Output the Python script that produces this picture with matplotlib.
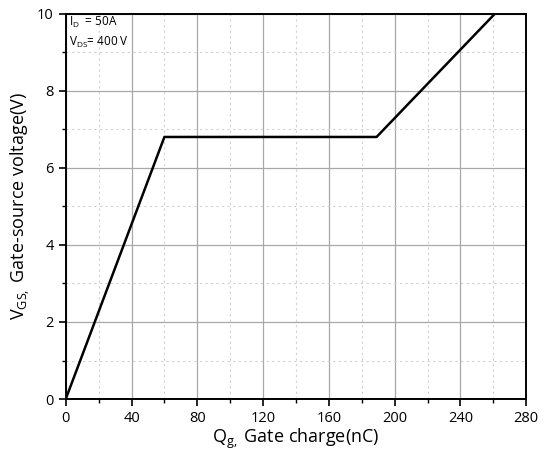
import matplotlib
matplotlib.use("Agg")
import matplotlib.pyplot as plt
from matplotlib.ticker import MultipleLocator

plt.rcParams['font.family'] = ['Open Sans', 'DejaVu Sans']
plt.rcParams['mathtext.fontset'] = 'custom'
plt.rcParams['mathtext.rm'] = 'Open Sans'

# gate charge curve
qg = [0, 60, 189, 261]
vgs = [0, 6.8, 6.8, 10]

fig = plt.figure(figsize=(5.45, 4.54), dpi=100)
ax = fig.add_axes([0.1206, 0.121, 0.845, 0.849])

ax.set_xlim(0, 280)
ax.set_ylim(0, 10)
ax.xaxis.set_major_locator(MultipleLocator(40))
ax.xaxis.set_minor_locator(MultipleLocator(20))
ax.yaxis.set_major_locator(MultipleLocator(2))
ax.yaxis.set_minor_locator(MultipleLocator(1))

ax.grid(which='major', color='#a8a8a8', ls='-', lw=0.9)
ax.grid(which='minor', color='#d0d0d0', ls=(0, (2, 3)), lw=0.8)
ax.set_axisbelow(True)

ax.plot(qg, vgs, color='black', lw=1.8, zorder=3)

for s in ax.spines.values():
    s.set_linewidth(1.4)
ax.tick_params(which='major', direction='out', length=5, width=1.2, labelsize=10.5)
ax.tick_params(which='minor', direction='out', length=3, width=1.0)

ax.set_xlabel(r'Q$_{\mathregular{g,}}$ Gate charge(nC)', fontsize=13, labelpad=1)
ax.set_ylabel(r'V$_{\mathregular{GS,}}$ Gate-source voltage(V)', fontsize=13, labelpad=4)

ax.text(2, 9.77, r'I$_{\mathregular{D}}$  = 50A', fontsize=8.5, va='center')
ax.text(2, 9.25, r'V$_{\mathregular{DS}}$= 400 V', fontsize=8.5, va='center')

fig.savefig('out.png', dpi=100)
